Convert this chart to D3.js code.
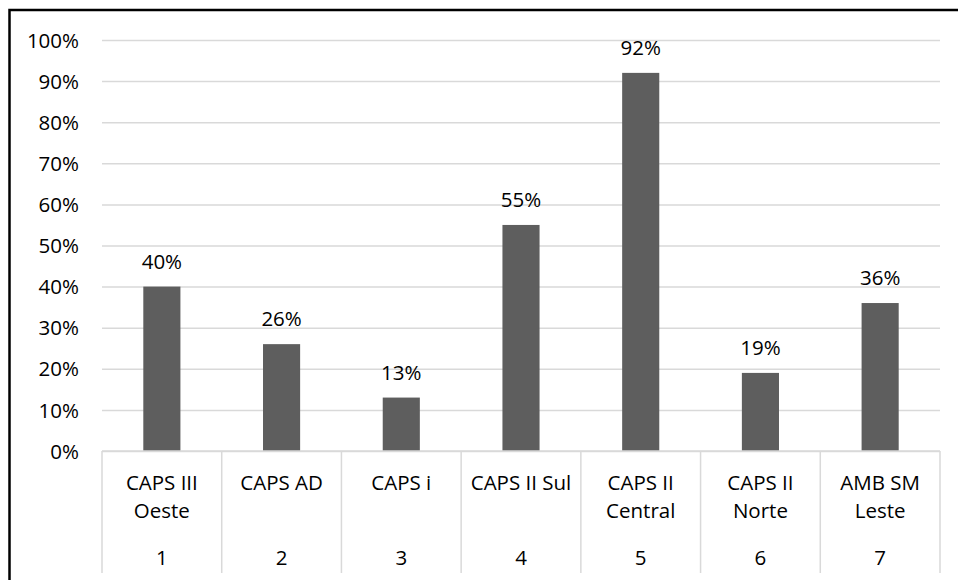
<!DOCTYPE html>
<html>
<head>
<meta charset="utf-8">
<script src="https://cdn.jsdelivr.net/npm/d3@7"></script>
<style>
  html, body { margin: 0; padding: 0; background: #fff; }
  svg { display: block; }
  text { font-family: "Open Sans", "Noto Sans", sans-serif; fill: #000; }
</style>
</head>
<body>
<svg id="chart" width="958" height="580"></svg>
<script>
// Unit names (split over two lines where the label wraps)
const categoryLines = [
  ["CAPS III", "Oeste"],
  ["CAPS AD"],
  ["CAPS i"],
  ["CAPS II Sul"],
  ["CAPS II", "Central"],
  ["CAPS II", "Norte"],
  ["AMB SM", "Leste"]
];
// Unit numbers shown on the lower label row
const categoryNumbers = ["1", "2", "3", "4", "5", "6", "7"];
// Share per unit
const values = [0.40, 0.26, 0.13, 0.55, 0.92, 0.19, 0.36];
// Y axis ticks
const yTicks = [0, 0.1, 0.2, 0.3, 0.4, 0.5, 0.6, 0.7, 0.8, 0.9, 1.0];

const FS = 20.5;
const svg = d3.select("#chart");

const plot = { left: 102, right: 940, top: 40, bottom: 451 };

const x = d3.scaleBand()
  .domain(d3.range(values.length))
  .range([plot.left, plot.right])
  .paddingInner(0)
  .paddingOuter(0);

const y = d3.scaleLinear()
  .domain([0, 1])
  .range([plot.bottom, plot.top]);

// Outer frame (right and bottom edges lie outside the view)
svg.append("rect")
  .attr("x", 9.5).attr("y", 10)
  .attr("width", 1200).attr("height", 1200)
  .attr("fill", "none")
  .attr("stroke", "#000")
  .attr("stroke-width", 2.5);

// Y axis with gridlines
const yAxis = svg.append("g")
  .attr("transform", `translate(${plot.left},0)`)
  .call(d3.axisLeft(y)
    .tickValues(yTicks)
    .tickFormat(d3.format(".0%"))
    .tickSizeInner(-(plot.right - plot.left))
    .tickSizeOuter(0)
    .tickPadding(23));
yAxis.select(".domain").remove();
yAxis.selectAll(".tick line")
  .attr("stroke", "#d9d9d9")
  .attr("stroke-width", 1.5);
yAxis.selectAll(".tick text")
  .attr("font-size", FS)
  .attr("dy", "0.35em")
  .style("fill", "#000");

// Bars
const barW = x.bandwidth() * 0.31;
svg.append("g").selectAll("rect")
  .data(values)
  .join("rect")
  .attr("x", (d, i) => x(i) + (x.bandwidth() - barW) / 2)
  .attr("y", d => y(d))
  .attr("width", barW)
  .attr("height", d => y(0) - y(d))
  .attr("fill", "#5e5e5e");

// Value labels
svg.append("g").selectAll("text")
  .data(values)
  .join("text")
  .attr("x", (d, i) => x(i) + x.bandwidth() / 2)
  .attr("y", d => y(d) - 18)
  .attr("text-anchor", "middle")
  .attr("font-size", FS)
  .text(d => d3.format(".0%")(d));

// Category axis: baseline and separators
const catBottom = 573;
svg.append("line")
  .attr("x1", plot.left).attr("x2", plot.right)
  .attr("y1", y(0)).attr("y2", y(0))
  .attr("stroke", "#d9d9d9").attr("stroke-width", 1.5);
const bounds = d3.range(values.length + 1).map(i => i < values.length ? x(i) : plot.right);
svg.append("g").selectAll("line")
  .data(bounds)
  .join("line")
  .attr("x1", d => d).attr("x2", d => d)
  .attr("y1", y(0)).attr("y2", catBottom)
  .attr("stroke", "#d9d9d9").attr("stroke-width", 1.5);

// Category names
const nameG = svg.append("g").selectAll("text")
  .data(categoryLines)
  .join("text")
  .attr("text-anchor", "middle")
  .attr("font-size", FS);
nameG.selectAll("tspan")
  .data((d, i) => d.map(line => ({ line, i })))
  .join("tspan")
  .attr("x", d => x(d.i) + x.bandwidth() / 2)
  .attr("y", (d, j) => 490 + j * 28)
  .text(d => d.line);

// Category numbers
svg.append("g").selectAll("text")
  .data(categoryNumbers)
  .join("text")
  .attr("x", (d, i) => x(i) + x.bandwidth() / 2)
  .attr("y", 565)
  .attr("text-anchor", "middle")
  .attr("font-size", FS)
  .text(d => d);
</script>
</body>
</html>
